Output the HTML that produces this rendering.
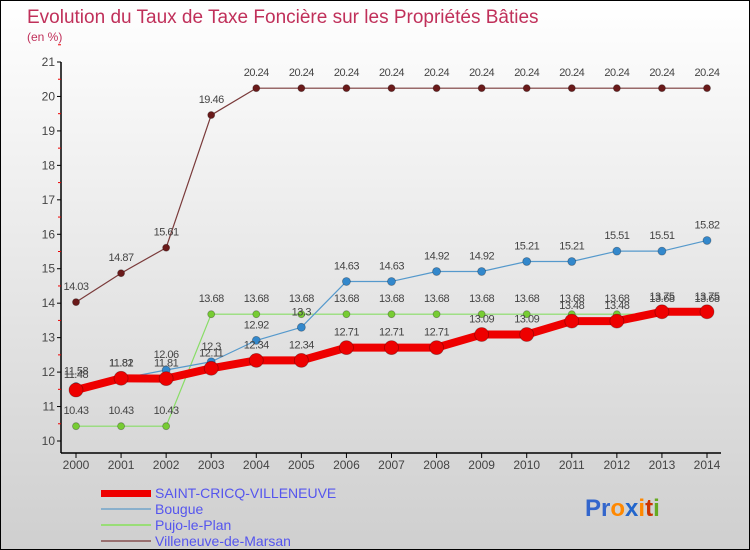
<!DOCTYPE html>
<html><head><meta charset="utf-8"><style>
html,body{margin:0;padding:0}
#wrap{position:relative;width:748px;height:548px;border:1px solid #000;background:linear-gradient(#ffffff,#cfcfcf);overflow:hidden;font-family:"Liberation Sans",sans-serif}
</style></head><body>
<div id="wrap">
<svg id="svg" width="748" height="548" xmlns="http://www.w3.org/2000/svg">
<text x="26" y="22" font-size="19" fill="#c0305a">Evolution du Taux de Taxe Foncière sur les Propriétés Bâties</text>
<text x="26" y="40" font-size="12" fill="#c0305a">(en %)</text>
<g id="axes"></g><g id="series"></g><g id="labels"></g>
<g>
<rect x="100" y="489" width="50" height="7" fill="#ee0000"/>
<text x="154" y="497" font-size="14" fill="#5555ee">SAINT-CRICQ-VILLENEUVE</text>
<rect x="100" y="507" width="50" height="2" fill="#8ab0cc"/>
<text x="154" y="513" font-size="14" fill="#5555ee">Bougue</text>
<rect x="100" y="523" width="50" height="2" fill="#99dd77"/>
<text x="154" y="529" font-size="14" fill="#5555ee">Pujo-le-Plan</text>
<rect x="100" y="539" width="50" height="2" fill="#997070"/>
<text x="154" y="545" font-size="14" fill="#5555ee">Villeneuve-de-Marsan</text>
</g>
<text x="584" y="515" font-size="24" font-weight="bold"><tspan fill="#3366cc">Pr</tspan><tspan fill="#ff8800">o</tspan><tspan fill="#2266cc">x</tspan><tspan fill="#ff8800">i</tspan><tspan fill="#cc3300">t</tspan><tspan fill="#66aa22">i</tspan></text>
</svg>
</div>
<script>
const years=[2000,2001,2002,2003,2004,2005,2006,2007,2008,2009,2010,2011,2012,2013,2014];
const saintCricq=[11.48,11.82,11.81,12.11,12.34,12.34,12.71,12.71,12.71,13.09,13.09,13.48,13.48,13.75,13.75];
const bougue=[11.58,11.81,12.06,12.3,12.92,13.3,14.63,14.63,14.92,14.92,15.21,15.21,15.51,15.51,15.82];
const pujo=[10.43,10.43,10.43,13.68,13.68,13.68,13.68,13.68,13.68,13.68,13.68,13.68,13.68,13.68,13.68];
const villeneuve=[14.03,14.87,15.61,19.46,20.24,20.24,20.24,20.24,20.24,20.24,20.24,20.24,20.24,20.24,20.24];
const yTicks=[10,11,12,13,14,15,16,17,18,19,20,21];
const NS="http://www.w3.org/2000/svg";
const x=i=>75+i*(706-75)/(years.length-1);
const y=v=>440-(v-10)*(440-61)/11;
function mk(t,a,p){const e=document.createElementNS(NS,t);for(const k in a)e.setAttribute(k,a[k]);p.appendChild(e);return e;}
const axes=document.getElementById('axes');
mk('line',{x1:60,y1:61,x2:60,y2:452,stroke:'#000','stroke-width':1.5},axes);
mk('line',{x1:60,y1:452,x2:720,y2:452,stroke:'#000','stroke-width':1.5},axes);
yTicks.forEach(v=>{
 mk('line',{x1:56,y1:y(v),x2:60,y2:y(v),stroke:'#000'},axes);
 mk('line',{x1:57,y1:y(v+0.5),x2:60,y2:y(v+0.5),stroke:'#e00'},axes);
 const t=mk('text',{x:54,y:y(v)+4,'font-size':12,fill:'#444','text-anchor':'end'},axes);
 t.textContent=v;
 
 
});
years.forEach((yr,i)=>{
 mk('line',{x1:x(i),y1:452,x2:x(i),y2:457,stroke:'#000'},axes);
 const t=mk('text',{x:x(i),y:468,'font-size':12,fill:'#444','text-anchor':'middle'},axes);
 t.textContent=yr;
 
 
});
const S=document.getElementById('series'),L=document.getElementById('labels');
function draw(vals,name,color,w,dot,dotColor){
 const g=mk('g',{},S);
 
 
 const pl=mk('polyline',{points:vals.map((v,i)=>x(i)+','+y(v)).join(' '),fill:'none',stroke:color,'stroke-width':w,'stroke-linejoin':'round'},g);
 
 
 vals.forEach((v,i)=>{
  const c=mk('circle',{cx:x(i),cy:y(v),r:dot,fill:dotColor,stroke:'rgba(0,0,0,0.3)','stroke-width':0.8},g);
  
  
  const t=mk('text',{x:x(i),y:y(v)-12,'font-size':11,fill:'#444','text-anchor':'middle','letter-spacing':'-0.5'},L);
  t.textContent=String(v);
  
  
 });
}
draw(villeneuve,'villeneuve','#7a3a3a',1.2,3.5,'#6a1a1a');
draw(pujo,'pujo','#88dd66',1.2,3.5,'#77cc33');
draw(bougue,'bougue','#5599cc',1.2,4,'#3388cc');
draw(saintCricq,'saint-cricq','#ee0000',8,7,'#ee0000');
</script>
</body></html>
